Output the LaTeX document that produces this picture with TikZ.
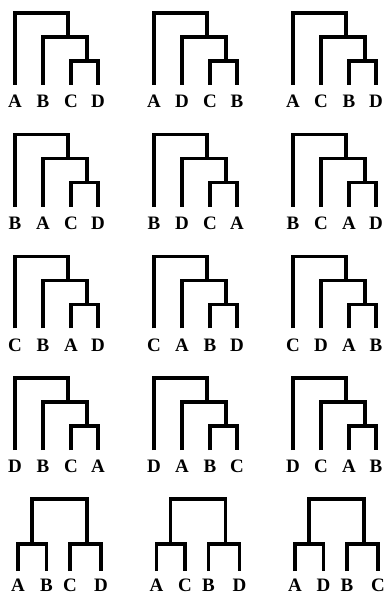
\documentclass[tikz,border=0pt]{standalone}
\usepackage{fontspec}
\setmainfont{Liberation Serif}
\usetikzlibrary{positioning}

\begin{document}
\begin{tikzpicture}[x=1pt, y=-1pt,
    branch/.style={line width=3.3pt, line join=miter},
    lab/.style={font=\bfseries\fontsize{19}{19}\selectfont, inner sep=0pt}]
  \useasboundingbox (0,0) rectangle (388,596);
  % caterpillar trees, rows 1-4
  \foreach \a/\b/\c/\d [count=\i from 0] in {A/B/C/D, A/D/C/B, A/C/B/D,
      B/A/C/D, B/D/C/A, B/C/A/D, C/B/A/D, C/A/B/D, C/D/A/B,
      D/B/C/A, D/A/B/C, D/C/A/B}{
    \pgfmathsetmacro\px{15+139*mod(\i,3)}
    \pgfmathsetmacro\py{13+121.7*div(\i,3)}
    \begin{scope}[shift={(\px,\py)}]
      \coordinate (t\i-1) at (0,72);
      \coordinate (t\i-2) at (28,72);
      \coordinate (t\i-3) at (56,72);
      \coordinate (t\i-4) at (83,72);
      \coordinate (t\i-x) at (72,48);
      \coordinate (t\i-y) at (53,24);
      \coordinate (t\i-z) at (26,0);
      \node[lab, below=10pt of t\i-1] (l\i-1) {\a};
      \node[lab, below=10pt of t\i-2] (l\i-2) {\b};
      \node[lab, below=10pt of t\i-3] (l\i-3) {\c};
      \node[lab, below=10pt of t\i-4] (l\i-4) {\d};
      \draw[branch] (t\i-3) |- (t\i-x) -| (t\i-4);
      \draw[branch] (t\i-2) |- (t\i-y) -| (t\i-x);
      \draw[branch] (t\i-1) |- (t\i-z) -| (t\i-y);
    \end{scope}
  }
  % balanced trees, row 5
  \foreach \a/\b/\c/\d [count=\j from 0] in {A/B/C/D, A/C/B/D, A/D/B/C}{
    \pgfmathsetmacro\px{18+138.5*\j}
    \begin{scope}[shift={(\px,499)}]
      \coordinate (b\j-1) at (0,72);
      \coordinate (b\j-2) at (28.5,72);
      \coordinate (b\j-3) at (52,72);
      \coordinate (b\j-4) at (83,72);
      \coordinate (b\j-p) at (14,45);
      \coordinate (b\j-q) at (69,45);
      \coordinate (b\j-r) at (40,0);
      \node[lab, below=8pt of b\j-1] (m\j-1) {\a};
      \node[lab, below=8pt of b\j-2] (m\j-2) {\b};
      \node[lab, below=8pt of b\j-3] (m\j-3) {\c};
      \node[lab, below=8pt of b\j-4] (m\j-4) {\d};
      \draw[branch] (b\j-1) |- (b\j-p) -| (b\j-2);
      \draw[branch] (b\j-3) |- (b\j-q) -| (b\j-4);
      \draw[branch] (b\j-p) |- (b\j-r) -| (b\j-q);
    \end{scope}
  }
\end{tikzpicture}
\end{document}
